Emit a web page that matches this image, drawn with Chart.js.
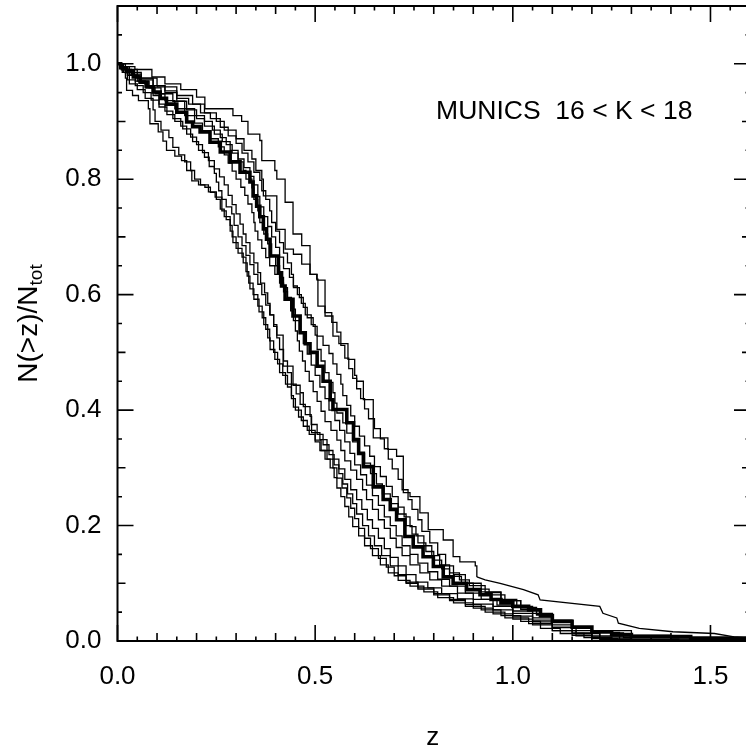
<!DOCTYPE html>
<html><head><meta charset="utf-8">
<script src="https://cdn.jsdelivr.net/npm/chart.js@4/dist/chart.umd.min.js"></script>
<style>html,body{margin:0;padding:0;background:#fff;overflow:hidden;width:746px;height:752px}</style>
</head><body>
<canvas id="c" width="780" height="752" style="display:block;width:780px;height:752px"></canvas>
<script>
// N(>z)/Ntot curves, [z, fraction] pairs
const fieldTotal = [[0,1],[0.008,0.993],[0.023,0.986],[0.04,0.977],[0.057,0.968],[0.075,0.96],[0.09,0.951],[0.108,0.94],[0.124,0.93],[0.15,0.916],[0.175,0.899],[0.19,0.891],[0.209,0.882],[0.234,0.864],[0.26,0.847],[0.285,0.83],[0.31,0.812],[0.335,0.795],[0.343,0.771],[0.352,0.753],[0.36,0.735],[0.369,0.714],[0.377,0.696],[0.386,0.667],[0.407,0.638],[0.415,0.615],[0.424,0.592],[0.444,0.563],[0.462,0.534],[0.475,0.515],[0.487,0.5],[0.505,0.476],[0.52,0.45],[0.538,0.418],[0.545,0.401],[0.58,0.378],[0.597,0.349],[0.61,0.325],[0.622,0.302],[0.647,0.267],[0.672,0.245],[0.69,0.228],[0.706,0.21],[0.727,0.181],[0.748,0.163],[0.773,0.146],[0.799,0.129],[0.824,0.111],[0.849,0.1],[0.883,0.089],[0.917,0.08],[0.945,0.072],[0.97,0.066],[1.0,0.06],[1.04,0.054],[1.07,0.044],[1.1,0.034],[1.15,0.024],[1.2,0.016],[1.25,0.011],[1.3,0.0075],[1.45,0.005],[1.6,0.003]];
const fieldA1 = [[0,1],[0.01,0.99],[0.02,0.975],[0.023,0.954],[0.038,0.945],[0.053,0.936],[0.078,0.922],[0.082,0.896],[0.103,0.882],[0.115,0.866],[0.124,0.85],[0.145,0.84],[0.162,0.832],[0.175,0.815],[0.188,0.797],[0.205,0.79],[0.221,0.786],[0.235,0.777],[0.247,0.769],[0.264,0.745],[0.275,0.73],[0.285,0.71],[0.292,0.69],[0.305,0.672],[0.318,0.655],[0.328,0.632],[0.335,0.61],[0.345,0.592],[0.358,0.57],[0.37,0.548],[0.38,0.525],[0.386,0.505],[0.398,0.488],[0.41,0.465],[0.425,0.445],[0.44,0.425],[0.445,0.405],[0.458,0.388],[0.47,0.372],[0.485,0.358],[0.5,0.345],[0.512,0.33],[0.525,0.315],[0.538,0.3],[0.548,0.283],[0.555,0.265],[0.565,0.25],[0.575,0.233],[0.585,0.215],[0.595,0.198],[0.61,0.182],[0.625,0.165],[0.645,0.148],[0.665,0.132],[0.685,0.118],[0.71,0.105],[0.74,0.095],[0.775,0.085],[0.81,0.075],[0.85,0.066],[0.9,0.057],[0.95,0.047],[1.0,0.038],[1.05,0.028],[1.1,0.018],[1.15,0.01],[1.2,0.004],[1.265,0]];
const fieldA2 = [[0,1],[0.015,0.985],[0.03,0.965],[0.05,0.955],[0.07,0.94],[0.09,0.92],[0.095,0.9],[0.11,0.885],[0.13,0.872],[0.14,0.855],[0.155,0.842],[0.17,0.83],[0.185,0.815],[0.195,0.8],[0.21,0.79],[0.23,0.778],[0.25,0.765],[0.26,0.748],[0.27,0.735],[0.285,0.72],[0.29,0.7],[0.3,0.68],[0.315,0.665],[0.325,0.64],[0.332,0.62],[0.343,0.6],[0.355,0.58],[0.366,0.56],[0.375,0.54],[0.385,0.52],[0.395,0.5],[0.405,0.48],[0.418,0.46],[0.43,0.44],[0.44,0.42],[0.45,0.4],[0.465,0.382],[0.48,0.365],[0.5,0.348],[0.515,0.33],[0.53,0.315],[0.545,0.3],[0.555,0.282],[0.568,0.265],[0.58,0.248],[0.59,0.23],[0.6,0.212],[0.61,0.195],[0.625,0.178],[0.64,0.16],[0.66,0.143],[0.68,0.128],[0.7,0.113],[0.73,0.1],[0.76,0.09],[0.8,0.08],[0.84,0.07],[0.88,0.06],[0.93,0.05],[0.98,0.04],[1.04,0.03],[1.1,0.018],[1.16,0.009],[1.22,0.003],[1.3,0]];
const fieldA3 = [[0,1],[0.01,0.99],[0.03,0.98],[0.05,0.97],[0.07,0.958],[0.09,0.945],[0.105,0.93],[0.12,0.918],[0.14,0.905],[0.16,0.892],[0.175,0.878],[0.19,0.865],[0.205,0.85],[0.22,0.838],[0.232,0.822],[0.245,0.81],[0.25,0.795],[0.256,0.78],[0.264,0.765],[0.275,0.752],[0.289,0.74],[0.295,0.72],[0.305,0.7],[0.315,0.685],[0.325,0.668],[0.335,0.652],[0.345,0.635],[0.355,0.618],[0.365,0.6],[0.375,0.582],[0.385,0.565],[0.395,0.545],[0.403,0.525],[0.41,0.505],[0.42,0.485],[0.43,0.465],[0.44,0.445],[0.452,0.428],[0.462,0.41],[0.475,0.392],[0.49,0.375],[0.505,0.358],[0.52,0.34],[0.535,0.323],[0.548,0.305],[0.56,0.29],[0.57,0.272],[0.582,0.255],[0.595,0.238],[0.605,0.22],[0.62,0.2],[0.635,0.182],[0.65,0.165],[0.668,0.148],[0.69,0.13],[0.71,0.115],[0.73,0.102],[0.76,0.092],[0.8,0.082],[0.84,0.072],[0.88,0.063],[0.92,0.054],[0.97,0.044],[1.02,0.034],[1.07,0.022],[1.12,0.013],[1.18,0.006],[1.25,0.002],[1.3,0]];
const fieldA4 = [[0,1],[0.012,0.985],[0.025,0.972],[0.045,0.962],[0.065,0.95],[0.085,0.937],[0.105,0.925],[0.125,0.912],[0.145,0.9],[0.165,0.887],[0.185,0.873],[0.2,0.86],[0.215,0.846],[0.23,0.832],[0.245,0.818],[0.258,0.804],[0.27,0.79],[0.28,0.772],[0.29,0.756],[0.3,0.74],[0.31,0.722],[0.318,0.705],[0.325,0.69],[0.335,0.672],[0.345,0.655],[0.355,0.638],[0.362,0.62],[0.372,0.603],[0.38,0.585],[0.386,0.565],[0.395,0.548],[0.403,0.53],[0.419,0.51],[0.419,0.476],[0.444,0.472],[0.444,0.443],[0.462,0.43],[0.47,0.406],[0.487,0.389],[0.491,0.361],[0.512,0.349],[0.53,0.33],[0.545,0.315],[0.56,0.298],[0.575,0.28],[0.59,0.262],[0.605,0.245],[0.618,0.228],[0.632,0.21],[0.645,0.195],[0.66,0.178],[0.675,0.16],[0.69,0.145],[0.71,0.13],[0.73,0.115],[0.755,0.102],[0.785,0.092],[0.82,0.082],[0.86,0.073],[0.9,0.064],[0.95,0.054],[1.0,0.043],[1.05,0.033],[1.1,0.023],[1.15,0.014],[1.2,0.007],[1.27,0.002],[1.35,0]];
const fieldB1 = [[0,1],[0.01,0.995],[0.03,0.985],[0.06,0.975],[0.09,0.962],[0.12,0.953],[0.15,0.94],[0.18,0.93],[0.21,0.915],[0.235,0.905],[0.26,0.89],[0.28,0.875],[0.3,0.862],[0.315,0.845],[0.33,0.83],[0.345,0.812],[0.36,0.798],[0.365,0.78],[0.375,0.765],[0.385,0.745],[0.39,0.725],[0.4,0.71],[0.41,0.69],[0.42,0.672],[0.43,0.655],[0.44,0.635],[0.445,0.615],[0.455,0.6],[0.465,0.585],[0.475,0.565],[0.49,0.548],[0.5,0.53],[0.505,0.505],[0.515,0.485],[0.525,0.465],[0.535,0.448],[0.545,0.43],[0.55,0.412],[0.555,0.395],[0.57,0.378],[0.58,0.36],[0.595,0.345],[0.61,0.325],[0.625,0.308],[0.64,0.29],[0.655,0.272],[0.67,0.255],[0.69,0.238],[0.71,0.22],[0.73,0.2],[0.745,0.185],[0.76,0.17],[0.78,0.155],[0.8,0.14],[0.82,0.125],[0.84,0.112],[0.87,0.1],[0.9,0.09],[0.94,0.08],[0.98,0.07],[1.02,0.058],[1.06,0.046],[1.1,0.034],[1.15,0.022],[1.2,0.014],[1.28,0.006],[1.4,0.002],[1.55,0]];
const fieldB2 = [[0,1],[0.012,0.99],[0.03,0.98],[0.055,0.97],[0.08,0.958],[0.11,0.948],[0.14,0.935],[0.17,0.922],[0.195,0.91],[0.22,0.9],[0.24,0.885],[0.26,0.872],[0.275,0.86],[0.29,0.845],[0.305,0.83],[0.318,0.815],[0.325,0.8],[0.34,0.785],[0.345,0.765],[0.355,0.745],[0.36,0.725],[0.37,0.705],[0.38,0.688],[0.39,0.668],[0.4,0.65],[0.41,0.63],[0.42,0.612],[0.43,0.595],[0.44,0.575],[0.45,0.555],[0.46,0.535],[0.47,0.515],[0.48,0.497],[0.49,0.478],[0.5,0.46],[0.512,0.44],[0.525,0.42],[0.535,0.4],[0.55,0.382],[0.562,0.365],[0.575,0.345],[0.588,0.325],[0.6,0.305],[0.615,0.288],[0.63,0.27],[0.645,0.252],[0.66,0.235],[0.675,0.215],[0.69,0.2],[0.705,0.182],[0.72,0.165],[0.74,0.15],[0.76,0.135],[0.785,0.12],[0.81,0.107],[0.84,0.095],[0.88,0.083],[0.92,0.072],[0.96,0.062],[1.0,0.052],[1.05,0.04],[1.1,0.028],[1.15,0.018],[1.22,0.009],[1.3,0.003],[1.42,0]];
const fieldB3 = [[0,1],[0.01,0.99],[0.025,0.98],[0.045,0.97],[0.07,0.96],[0.095,0.948],[0.12,0.936],[0.145,0.922],[0.17,0.91],[0.195,0.897],[0.215,0.884],[0.235,0.87],[0.255,0.856],[0.27,0.842],[0.28,0.828],[0.29,0.814],[0.3,0.8],[0.312,0.786],[0.322,0.772],[0.33,0.757],[0.34,0.742],[0.345,0.725],[0.348,0.71],[0.355,0.695],[0.365,0.68],[0.375,0.664],[0.385,0.65],[0.398,0.635],[0.41,0.62],[0.42,0.605],[0.43,0.59],[0.438,0.572],[0.445,0.555],[0.45,0.537],[0.455,0.52],[0.46,0.502],[0.468,0.485],[0.475,0.467],[0.485,0.45],[0.495,0.432],[0.505,0.415],[0.515,0.398],[0.525,0.38],[0.54,0.365],[0.555,0.348],[0.565,0.33],[0.575,0.312],[0.59,0.296],[0.605,0.28],[0.62,0.262],[0.63,0.245],[0.645,0.228],[0.66,0.21],[0.675,0.195],[0.69,0.178],[0.705,0.162],[0.72,0.148],[0.74,0.132],[0.765,0.118],[0.79,0.106],[0.82,0.095],[0.86,0.083],[0.9,0.072],[0.95,0.06],[1.0,0.048],[1.05,0.036],[1.1,0.024],[1.16,0.013],[1.22,0.005],[1.3,0]];
const fieldC1 = [[0,1],[0.01,0.995],[0.044,0.99],[0.087,0.977],[0.12,0.965],[0.16,0.955],[0.2,0.942],[0.221,0.922],[0.292,0.91],[0.314,0.9],[0.33,0.878],[0.36,0.867],[0.365,0.832],[0.398,0.815],[0.403,0.8],[0.424,0.76],[0.444,0.705],[0.466,0.685],[0.487,0.635],[0.505,0.625],[0.525,0.613],[0.525,0.563],[0.545,0.528],[0.56,0.515],[0.583,0.505],[0.583,0.488],[0.6,0.46],[0.605,0.45],[0.622,0.418],[0.647,0.396],[0.647,0.352],[0.684,0.332],[0.706,0.32],[0.723,0.302],[0.723,0.257],[0.74,0.25],[0.765,0.222],[0.786,0.193],[0.824,0.175],[0.849,0.146],[0.866,0.137],[0.905,0.13],[0.909,0.111]];
const fieldC1tail = [[0.909,0.111],[0.93,0.106],[0.968,0.1],[1.027,0.089],[1.064,0.08],[1.069,0.071],[1.22,0.06],[1.228,0.048],[1.263,0.04],[1.267,0.031],[1.32,0.022],[1.405,0.016],[1.51,0.013],[1.56,0.007],[1.6,0.005]];
const fieldC2 = [[0,1],[0.02,0.99],[0.05,0.975],[0.1,0.96],[0.15,0.945],[0.19,0.93],[0.22,0.915],[0.25,0.9],[0.27,0.885],[0.3,0.87],[0.32,0.85],[0.34,0.835],[0.35,0.815],[0.365,0.8],[0.369,0.771],[0.403,0.753],[0.403,0.713],[0.424,0.708],[0.424,0.679],[0.445,0.67],[0.466,0.653],[0.487,0.635],[0.504,0.627],[0.507,0.58],[0.525,0.569],[0.542,0.552],[0.555,0.535],[0.565,0.512],[0.575,0.49],[0.585,0.472],[0.595,0.455],[0.605,0.437],[0.615,0.42],[0.625,0.402],[0.635,0.385],[0.65,0.368],[0.665,0.35],[0.675,0.333],[0.685,0.315],[0.695,0.298],[0.71,0.28],[0.72,0.262],[0.735,0.245],[0.745,0.228],[0.76,0.21],[0.77,0.19],[0.79,0.17],[0.81,0.15],[0.83,0.13],[0.85,0.115],[0.88,0.1],[0.92,0.085],[0.97,0.07],[1.02,0.055],[1.06,0.045],[1.1,0.035],[1.15,0.025],[1.2,0.018],[1.3,0.01],[1.4,0.005],[1.6,0.002]];
const fieldC3 = [[0,1],[0.015,0.99],[0.035,0.982],[0.06,0.972],[0.09,0.962],[0.12,0.95],[0.15,0.935],[0.175,0.92],[0.2,0.905],[0.22,0.892],[0.245,0.878],[0.265,0.865],[0.285,0.85],[0.305,0.835],[0.32,0.82],[0.335,0.805],[0.345,0.79],[0.355,0.77],[0.36,0.752],[0.37,0.735],[0.38,0.718],[0.39,0.7],[0.4,0.682],[0.41,0.665],[0.42,0.645],[0.435,0.63],[0.445,0.612],[0.46,0.595],[0.47,0.578],[0.48,0.56],[0.495,0.545],[0.505,0.528],[0.52,0.512],[0.535,0.498],[0.545,0.48],[0.555,0.462],[0.565,0.445],[0.57,0.425],[0.58,0.408],[0.59,0.39],[0.6,0.372],[0.612,0.355],[0.625,0.338],[0.638,0.32],[0.65,0.302],[0.665,0.285],[0.68,0.268],[0.695,0.25],[0.71,0.232],[0.725,0.215],[0.74,0.198],[0.755,0.182],[0.775,0.165],[0.795,0.148],[0.815,0.132],[0.84,0.118],[0.865,0.106],[0.89,0.096],[0.93,0.084],[0.97,0.072],[1.01,0.06],[1.05,0.048],[1.1,0.036],[1.15,0.024],[1.2,0.015],[1.27,0.007],[1.35,0.002],[1.45,0]];

const thinFields = [fieldA1, fieldA2, fieldA3, fieldA4, fieldB1, fieldB2, fieldB3, fieldC1, fieldC2, fieldC3];
const xTickLabels = ['0.0', '0.5', '1.0', '1.5'];
const yTickLabels = ['0.0', '0.2', '0.4', '0.6', '0.8', '1.0'];
const xTitle = 'z';
const yTitleMain = 'N(>z)/N';
const yTitleSub = 'tot';
const annotation = 'MUNICS  16 < K < 18';

const FONT = '"Liberation Sans", Arial, Helvetica, sans-serif';
const toXY = arr => arr.map(p => ({x: p[0], y: p[1]}));

const datasets = thinFields.map(f => ({
  data: toXY(f), borderColor: '#000', borderWidth: 1.3, pointRadius: 0, stepped: true, fill: false
}));
datasets.push({data: toXY(fieldC1tail), borderColor: '#000', borderWidth: 1.3, pointRadius: 0, stepped: false, fill: false});
datasets.push({data: toXY(fieldTotal), borderColor: '#000', borderWidth: 3.6, pointRadius: 0, stepped: true, fill: false});

const decor = {
  id: 'decor',
  afterDraw(chart) {
    const {ctx, chartArea: a, scales: {x, y}} = chart;
    ctx.save();
    ctx.strokeStyle = '#000';
    ctx.lineWidth = 2;
    ctx.strokeRect(a.left, a.top, a.right - a.left, a.bottom - a.top);
    ctx.lineWidth = 1.6;
    ctx.beginPath();
    for (let i = 0; i <= 32; i++) {
      const v = i * 0.05;
      const px = x.getPixelForValue(v);
      const len = (i % 10 === 0) ? 16 : (i % 2 === 0 ? 8 : 4.5);
      ctx.moveTo(px, a.bottom); ctx.lineTo(px, a.bottom - len);
      ctx.moveTo(px, a.top); ctx.lineTo(px, a.top + len);
    }
    for (let i = 0; i <= 22; i++) {
      const v = i * 0.05;
      const py = y.getPixelForValue(v);
      const len = (i % 4 === 0) ? 16 : (i % 2 === 0 ? 8 : 4.5);
      ctx.moveTo(a.left, py); ctx.lineTo(a.left + len, py);
      ctx.moveTo(a.right, py); ctx.lineTo(a.right - len, py);
    }
    ctx.stroke();
    ctx.fillStyle = '#000';
    ctx.font = '26.5px ' + FONT;
    ctx.textAlign = 'left'; ctx.textBaseline = 'middle';
    ctx.fillText(annotation, x.getPixelForValue(0.806), y.getPixelForValue(0.917));
    ctx.font = '26px ' + FONT;
    ctx.textAlign = 'center'; ctx.textBaseline = 'alphabetic';
    ctx.fillText(xTitle, (a.left + a.right) / 2 - 1, 745);
    ctx.translate(37, (a.top + a.bottom) / 2);
    ctx.rotate(-Math.PI / 2);
    ctx.font = '28px ' + FONT;
    const w1 = ctx.measureText(yTitleMain).width;
    ctx.font = '19px ' + FONT;
    const w2 = ctx.measureText(yTitleSub).width;
    const start = -(w1 + w2) / 2;
    ctx.textAlign = 'left';
    ctx.font = '28px ' + FONT;
    ctx.fillText(yTitleMain, start, 0);
    ctx.font = '19px ' + FONT;
    ctx.fillText(yTitleSub, start + w1, 5);
    ctx.restore();
  }
};

new Chart(document.getElementById('c'), {
  type: 'line',
  data: {datasets},
  options: {
    responsive: false, animation: false, devicePixelRatio: 1,
    layout: {padding: {top: 6, right: 30, left: 0, bottom: 0}},
    plugins: {legend: {display: false}, tooltip: {enabled: false}},
    scales: {
      x: {
        type: 'linear', min: 0, max: 1.6,
        grid: {display: false}, border: {display: false},
        ticks: {stepSize: 0.5, includeBounds: false, color: '#000', padding: 12,
          font: {size: 26, family: FONT},
          callback: (v) => xTickLabels[Math.round(v / 0.5)] ?? ''},
        afterFit: s => { s.height = 111; s.paddingLeft = 0; s.paddingRight = 0; }
      },
      y: {
        type: 'linear', min: 0, max: 1.1,
        grid: {display: false}, border: {display: false},
        ticks: {stepSize: 0.2, includeBounds: false, color: '#000', padding: 8,
          font: {size: 26, family: FONT},
          callback: (v) => yTickLabels[Math.round(v / 0.2)] ?? ''},
        afterFit: s => { s.width = 117.5; s.paddingTop = 0; s.paddingBottom = 0; }
      }
    }
  },
  plugins: [decor]
});
</script>
</body></html>
